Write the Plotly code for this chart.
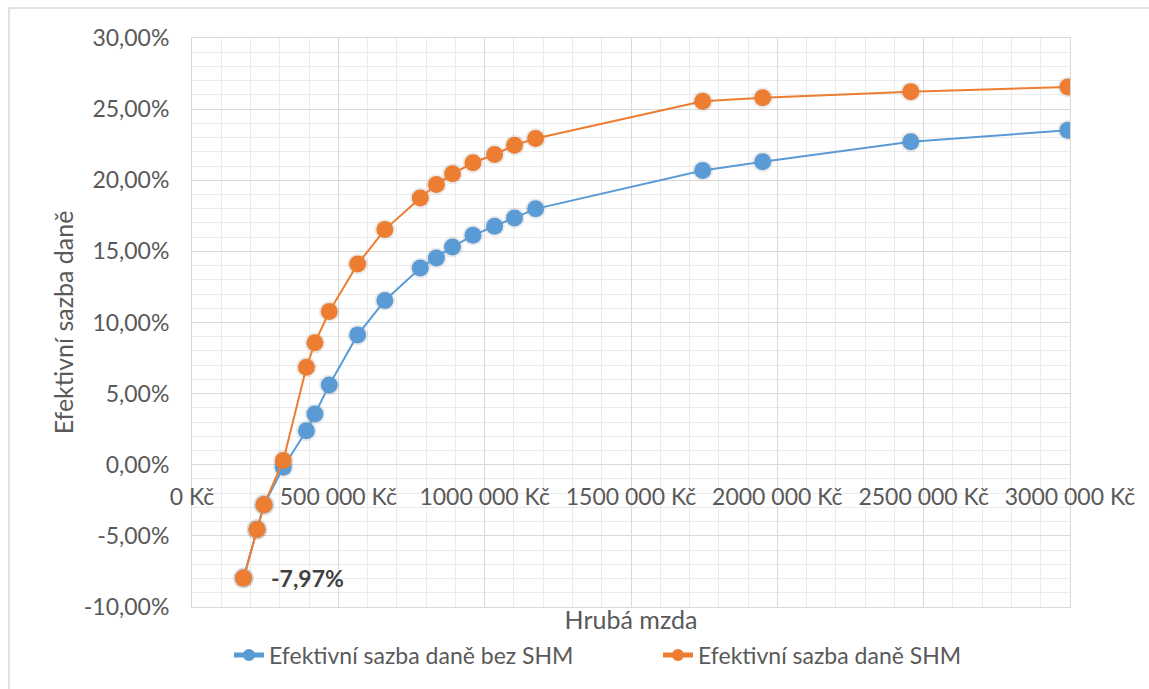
import plotly.graph_objects as go

# Gross annual wage (Kč)
gross = [176000, 222000, 246000, 312000, 391000, 420000, 469000, 566000,
         659000, 780000, 835000, 890000, 960000, 1034000, 1102000, 1174000,
         1745000, 1950000, 2456000, 2993000]

# Effective tax rate without SHM (%)
rate_bez_shm = [-7.97, -4.55, -2.82, -0.18, 2.39, 3.57, 5.61, 9.13, 11.55,
                13.83, 14.54, 15.31, 16.13, 16.76, 17.35, 17.99, 20.68,
                21.30, 22.70, 23.52]

# Effective tax rate with SHM (%)
rate_shm = [-7.97, -4.55, -2.82, 0.30, 6.86, 8.57, 10.77, 14.11, 16.53,
            18.76, 19.70, 20.45, 21.23, 21.81, 22.46, 22.94, 25.56, 25.80,
            26.23, 26.55]

x_tickvals = [0, 500000, 1000000, 1500000, 2000000, 2500000, 3000000]
x_ticktext = ["0 Kč", "500 000 Kč", "1000 000 Kč", "1500 000 Kč",
              "2000 000 Kč", "2500 000 Kč", "3000 000 Kč"]
y_tickvals = [-10, -5, 0, 5, 10, 15, 20, 25, 30]
y_ticktext = ["-10,00%", "-5,00%", "0,00%", "5,00%", "10,00%", "15,00%",
              "20,00%", "25,00%", "30,00%"]

BLUE = "#5B9BD5"
ORANGE = "#ED7D31"
TEXT = "#595959"
FONT = "Lato"
MAJOR = "#D9D9D9"
MINOR = "#EBEBEB"
TICK_SIZE = 23
TITLE_SIZE = 25

fig = go.Figure()

# soft shadow under the markers (base axis; the series sit on the overlay axis above it)
for series in (rate_bez_shm, rate_shm):
    fig.add_trace(go.Scatter(
        x=gross, y=series, mode="markers",
        marker=dict(color="rgba(0,0,0,0.08)", size=21),
        showlegend=False, hoverinfo="skip",
    ))

fig.add_trace(go.Scatter(
    x=gross, y=rate_bez_shm, mode="lines+markers", xaxis="x2",
    name="Efektivní sazba daně bez SHM", legend="legend",
    line=dict(color=BLUE, width=2),
    marker=dict(color=BLUE, size=17),
))
fig.add_trace(go.Scatter(
    x=gross, y=rate_shm, mode="lines+markers", xaxis="x2",
    name="Efektivní sazba daně SHM", legend="legend2",
    line=dict(color=ORANGE, width=2),
    marker=dict(color=ORANGE, size=17),
))

# value label on the lowest point of the SHM series
low_i = rate_shm.index(min(rate_shm))
fig.add_annotation(
    x=gross[low_i], y=rate_shm[low_i],
    text="<b>" + f"{rate_shm[low_i]:.2f}".replace(".", ",") + "%</b>",
    showarrow=False, xanchor="left", yanchor="middle", xshift=25,
    font=dict(family=FONT, size=TICK_SIZE, color="#404040"),
)

# outer chart frame
fig.add_shape(type="rect", xref="paper", yref="paper",
              x0=(9 - 192) / 878, x1=1.3, y0=-0.3, y1=(607 - 8) / 569,
              line=dict(color=MAJOR, width=1.5), layer="below")

legend_common = dict(orientation="h", xref="container", yref="container",
                     xanchor="left", y=(689 - 655) / 689, yanchor="middle",
                     font=dict(family=FONT, size=TICK_SIZE, color=TEXT),
                     itemsizing="constant", bgcolor="rgba(0,0,0,0)")

fig.update_layout(
    width=1149, height=689,
    margin=dict(l=192, r=79, t=38, b=82, autoexpand=False),
    paper_bgcolor="white", plot_bgcolor="white",
    font=dict(family=FONT, size=TICK_SIZE, color=TEXT),
    showlegend=True,
    legend=dict(x=229 / 1149, **legend_common),
    legend2=dict(x=658 / 1149, **legend_common),
    xaxis=dict(
        range=[0, 3000000], tickvals=x_tickvals, showticklabels=False,
        showgrid=True, gridcolor=MAJOR, gridwidth=1.3, zeroline=False,
        showline=True, linecolor=MAJOR, mirror=True, ticks="",
        minor=dict(dtick=100000, showgrid=True, gridcolor=MINOR, gridwidth=1.3),
        title=dict(text="Hrubá mzda", standoff=10,
                   font=dict(family=FONT, size=TITLE_SIZE, color=TEXT)),
    ),
    xaxis2=dict(
        overlaying="x", matches="x", anchor="free", position=0.25,
        side="bottom", tickvals=x_tickvals, ticktext=x_ticktext,
        showgrid=False, zeroline=False, showline=False, ticks="",
        ticklabelstandoff=16,
        tickfont=dict(family=FONT, size=TICK_SIZE, color=TEXT),
    ),
    yaxis=dict(
        range=[-10, 30], tickvals=y_tickvals, ticktext=y_ticktext,
        showgrid=True, gridcolor=MAJOR, gridwidth=1.3, zeroline=False,
        showline=True, linecolor=MAJOR, mirror=True, ticks="",
        ticklabelstandoff=17,
        minor=dict(dtick=1, showgrid=True, gridcolor=MINOR, gridwidth=1.3),
        tickfont=dict(family=FONT, size=TICK_SIZE, color=TEXT),
        title=dict(text="Efektivní sazba daně", standoff=3,
                   font=dict(family=FONT, size=TITLE_SIZE, color=TEXT)),
    ),
)

fig.write_html("out.html")
